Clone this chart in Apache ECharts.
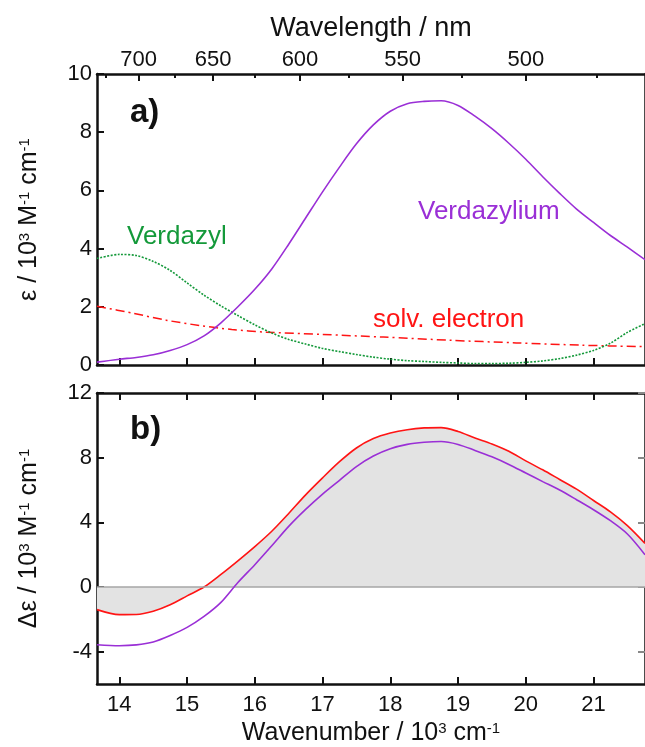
<!DOCTYPE html>
<html><head><meta charset="utf-8">
<script src="https://cdn.jsdelivr.net/npm/echarts@6/dist/echarts.min.js"></script>
<style>html,body{margin:0;padding:0;background:#fff}#c{width:645px;height:747px}</style>
</head><body><div id="c"></div>
<script>
// ---- data (x in 10^3 cm^-1) ----
const wavenumberTicks = [14, 15, 16, 17, 18, 19, 20, 21];
const wavelengthMajor = [700, 650, 600, 550, 500];
const wavelengthMinor = [725, 675, 625, 575, 525, 475];
const deltaTicks = [-4, 0, 4, 8, 12];

// panel a : wavenumber grid and absorption coefficients
const wnA = [13.67,14.0,14.25,14.5,14.75,15.0,15.25,15.5,15.75,16.0,16.25,16.5,16.75,17.0,17.25,17.5,17.75,18.0,18.25,18.5,18.75,19.0,19.25,19.5,19.75,20.0,20.25,20.5,20.75,21.0,21.25,21.5,21.76];
const verdazyliumY = [0.10,0.20,0.26,0.35,0.50,0.70,1.0,1.45,2.0,2.6,3.3,4.15,5.05,5.95,6.8,7.6,8.25,8.72,8.98,9.06,9.08,8.92,8.55,8.12,7.62,7.07,6.47,5.9,5.36,4.9,4.45,4.05,3.62];
const verdazylY = [3.66,3.80,3.76,3.56,3.25,2.82,2.40,2.03,1.70,1.38,1.10,0.88,0.72,0.57,0.46,0.36,0.27,0.20,0.15,0.12,0.09,0.07,0.05,0.05,0.06,0.09,0.14,0.22,0.34,0.50,0.75,1.12,1.42];
const electronX = [13.67,14.2,14.69,15.18,15.66,16.15,17.0,17.9,18.88,19.86,20.83,21.76];
const electronY = [2.02,1.78,1.54,1.36,1.22,1.13,1.05,0.96,0.85,0.76,0.68,0.63];

// panel b : difference spectra
const wnB = [13.67,14.0,14.25,14.5,14.75,15.0,15.25,15.5,15.75,16.0,16.25,16.5,16.75,17.0,17.25,17.5,17.75,18.0,18.25,18.5,18.75,19.0,19.25,19.5,19.75,20.0,20.25,20.5,20.75,21.0,21.25,21.5,21.76];
const diffRedY = [-1.40,-1.71,-1.70,-1.50,-1.10,-0.55,0.0,0.78,1.62,2.5,3.45,4.55,5.7,6.75,7.75,8.6,9.18,9.52,9.73,9.84,9.86,9.62,9.22,8.85,8.4,7.8,7.25,6.65,6.05,5.35,4.65,3.8,2.7];
const diffPurpleY = [-3.57,-3.63,-3.58,-3.40,-3.0,-2.5,-1.82,-0.95,0.28,1.38,2.55,3.75,4.8,5.75,6.6,7.45,8.1,8.55,8.82,8.95,9.0,8.82,8.45,8.05,7.58,7.05,6.52,6.0,5.4,4.78,4.1,3.28,2.0];

const XMIN = 13.67, XMAX = 21.76;
const pair = (xs, ys) => xs.map((x, i) => [x, ys[i]]);

const FONT = '"Liberation Sans", Arial, sans-serif';
const INK = '#111';
const PURPLE = '#9a2fd6', RED = '#ff1414', GREEN = '#14993a';

const axLine = { show: true, onZero: false, lineStyle: { color: INK, width: 2.5 } };
const tick = (vals, len) => ({ show: true, inside: true, length: len || 7, lineStyle: { color: INK, width: 2 }, customValues: vals });
const noLabel = { show: false };
const labelStyle = { fontSize: 22, color: INK, fontFamily: FONT };
const supRich = {
  a: { fontSize: 25, color: INK, fontFamily: FONT },
  s: { fontSize: 15, color: INK, fontFamily: FONT, verticalAlign: 'top' }
};

const chart = echarts.init(document.getElementById('c'), null, { renderer: 'canvas' });
chart.setOption({
  animation: false,
  backgroundColor: '#fff',
  grid: [
    { left: 97, top: 74, width: 551, height: 291 },
    { left: 97, top: 393, width: 551, height: 291 }
  ],
  xAxis: [
    { gridIndex: 0, type: 'value', position: 'bottom', min: XMIN, max: XMAX,
      axisLine: axLine, axisTick: tick(wavenumberTicks), axisLabel: noLabel, splitLine: { show: false } },
    { gridIndex: 0, type: 'value', position: 'top', min: XMIN, max: XMAX,
      axisLine: axLine, axisTick: tick(wavelengthMajor.map(w => 10000 / w)),
      axisLabel: Object.assign({ margin: 3, customValues: wavelengthMajor.map(w => 10000 / w),
        formatter: v => String(Math.round(10000 / v)) }, labelStyle),
      splitLine: { show: false },
      name: 'Wavelength / nm', nameLocation: 'middle', nameGap: 32,
      nameTextStyle: { fontSize: 27, color: INK, fontFamily: FONT } },
    { gridIndex: 0, type: 'value', position: 'top', min: XMIN, max: XMAX,
      axisLine: { show: false, onZero: false }, axisTick: tick(wavelengthMinor.map(w => 10000 / w), 4),
      axisLabel: noLabel, splitLine: { show: false } },
    { gridIndex: 1, type: 'value', position: 'top', min: XMIN, max: XMAX,
      axisLine: axLine, axisTick: tick(wavenumberTicks), axisLabel: noLabel, splitLine: { show: false } },
    { gridIndex: 1, type: 'value', position: 'bottom', min: XMIN, max: XMAX,
      axisLine: axLine, axisTick: tick(wavenumberTicks),
      axisLabel: Object.assign({ margin: 10, customValues: wavenumberTicks }, labelStyle),
      splitLine: { show: false },
      name: '{a|Wavenumber / 10}{s|3}{a| cm}{s|-1}', nameLocation: 'middle', nameGap: 37,
      nameTextStyle: { rich: supRich } }
  ],
  yAxis: [
    { gridIndex: 0, type: 'value', min: 0, max: 10, interval: 2, position: 'left',
      axisLine: axLine, axisTick: { show: true, inside: true, length: 7, lineStyle: { color: INK, width: 2 } },
      axisLabel: Object.assign({ margin: 5 }, labelStyle), splitLine: { show: false },
      name: '{a|ε / 10}{s|3}{a| M}{s|-1}{a| cm}{s|-1}', nameLocation: 'middle', nameGap: 55, nameRotate: 90,
      nameTextStyle: { rich: supRich } },
    { gridIndex: 0, type: 'value', min: 0, max: 10, interval: 2, position: 'right',
      axisLine: axLine, axisTick: { show: false }, axisLabel: noLabel, splitLine: { show: false } },
    { gridIndex: 1, type: 'value', min: -6, max: 12, position: 'left',
      axisLine: axLine, axisTick: tick(deltaTicks),
      axisLabel: Object.assign({ margin: 5, customValues: deltaTicks }, labelStyle), splitLine: { show: false },
      name: '{a|Δε / 10}{s|3}{a| M}{s|-1}{a| cm}{s|-1}', nameLocation: 'middle', nameGap: 55, nameRotate: 90,
      nameTextStyle: { rich: supRich } },
    { gridIndex: 1, type: 'value', min: -6, max: 12, position: 'right',
      axisLine: axLine, axisTick: Object.assign(tick(deltaTicks), { lineStyle: { color: '#888', width: 2 } }),
      axisLabel: noLabel, splitLine: { show: false } }
  ],
  series: [
    { type: 'line', xAxisIndex: 0, yAxisIndex: 0, data: pair(electronX, electronY), showSymbol: false,
      smooth: 0.3, lineStyle: { color: RED, width: 1.5, type: [9, 4, 2, 4] }, z: 2 },
    { type: 'line', xAxisIndex: 0, yAxisIndex: 0, data: pair(wnA, verdazylY), showSymbol: false,
      smooth: 0.3, lineStyle: { color: GREEN, width: 1.6, type: [2, 1.5] }, z: 2 },
    { type: 'line', xAxisIndex: 0, yAxisIndex: 0, data: pair(wnA, verdazyliumY), showSymbol: false,
      smooth: 0.3, lineStyle: { color: PURPLE, width: 1.6 }, z: 3 },
    { type: 'line', xAxisIndex: 3, yAxisIndex: 2, data: pair(wnB, diffRedY), showSymbol: false,
      smooth: 0.3, lineStyle: { color: RED, width: 1.6 }, areaStyle: { color: '#e3e3e3', opacity: 1, origin: 0 }, z: 2 },
    { type: 'line', xAxisIndex: 3, yAxisIndex: 2, data: [[XMIN, 0], [XMAX, 0]], showSymbol: false,
      lineStyle: { color: '#a6a6a6', width: 1.5 }, z: 2 },
    { type: 'line', xAxisIndex: 3, yAxisIndex: 2, data: pair(wnB, diffPurpleY), showSymbol: false,
      smooth: 0.3, lineStyle: { color: PURPLE, width: 1.6 }, z: 3 }
  ],
  graphic: [
    { type: 'text', left: 130, top: 96, style: { text: 'a)', font: 'bold 33px ' + FONT, fill: INK } },
    { type: 'text', left: 130, top: 413, style: { text: 'b)', font: 'bold 33px ' + FONT, fill: INK } },
    { type: 'text', left: 127, top: 224, style: { text: 'Verdazyl', font: '26px ' + FONT, fill: GREEN } },
    { type: 'text', left: 418, top: 199, style: { text: 'Verdazylium', font: '26px ' + FONT, fill: PURPLE } },
    { type: 'text', left: 373, top: 307, style: { text: 'solv. electron', font: '26px ' + FONT, fill: RED } }
  ]
});
</script>
</body></html>
